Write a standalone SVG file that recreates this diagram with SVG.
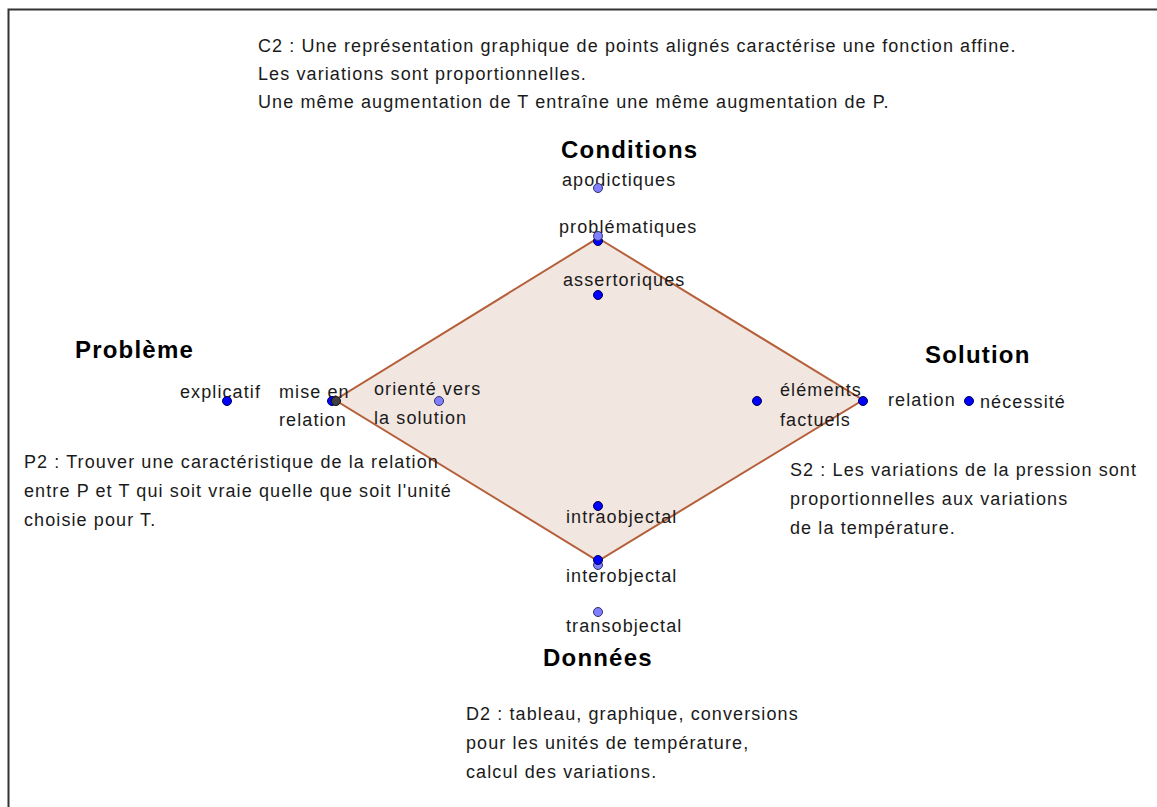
<svg xmlns="http://www.w3.org/2000/svg" width="1157" height="807" viewBox="0 0 1157 807">
<style>
text{font-family:"Liberation Sans",Arial,sans-serif;font-size:18px;letter-spacing:1.1px;fill:#1a1a1a}
.h{font-weight:bold;font-size:24px;letter-spacing:1.2px;fill:#000}
.pd{fill:#0000ff;stroke:#00004d;stroke-width:1}
.pl{fill:#7f7fff;stroke:#333366;stroke-width:1}
.pg{fill:#404040;stroke:#111;stroke-width:1}
</style>
<rect x="0" y="0" width="1157" height="807" fill="#fff"/>
<path d="M8.5 807 V9.5 H1157" fill="none" stroke="#333" stroke-width="2"/>
<g id="connectors">
<polygon points="598,238 863,400 598,561 335,400" fill="#f2e6e1" stroke="#b5603a" stroke-width="2"/>
</g>
<g id="texts-top">
<text x="258" y="52">C2 : Une représentation graphique de points alignés caractérise une fonction affine.</text>
<text x="258" y="80">Les variations sont proportionnelles.</text>
<text x="258" y="108">Une même augmentation de T entraîne une même augmentation de P.</text>
</g>
<g id="conditions">
<text class="h" x="561" y="158">Conditions</text>
<text x="562" y="186">apodictiques</text>
<circle class="pl" cx="598" cy="188" r="4.5"/>
<text x="559" y="233">problématiques</text>
<circle class="pd" cx="598" cy="241" r="4.5"/>
<circle class="pl" cx="598" cy="236" r="4.5"/>
<text x="563" y="286">assertoriques</text>
<circle class="pd" cx="598" cy="295" r="4.5"/>
</g>
<g id="probleme">
<text class="h" x="75" y="358">Problème</text>
<text x="180" y="398">explicatif</text>
<circle class="pd" cx="227" cy="401" r="4.5"/>
<text x="279" y="398">mise en</text>
<text x="279" y="426">relation</text>
<circle class="pd" cx="332" cy="401" r="4.5"/>
<circle class="pg" cx="336" cy="401" r="4.5"/>
<text x="374" y="395">orienté vers</text>
<text x="374" y="424">la solution</text>
<circle class="pl" cx="439" cy="401" r="4.5"/>
<text x="24" y="468">P2 : Trouver une caractéristique de la relation</text>
<text x="24" y="497">entre P et T qui soit vraie quelle que soit l'unité</text>
<text x="24" y="526">choisie pour T.</text>
</g>
<g id="solution">
<text class="h" x="925" y="363">Solution</text>
<text x="780" y="396">éléments</text>
<text x="780" y="426">factuels</text>
<circle class="pd" cx="757" cy="401" r="4.5"/>
<circle class="pd" cx="863" cy="401" r="4.5"/>
<text x="888" y="406">relation</text>
<circle class="pd" cx="969" cy="401" r="4.5"/>
<text x="980" y="408">nécessité</text>
<text x="790" y="476">S2 : Les variations de la pression sont</text>
<text x="790" y="505">proportionnelles aux variations</text>
<text x="790" y="534">de la température.</text>
</g>
<g id="donnees">
<circle class="pd" cx="598" cy="506" r="4.5"/>
<text x="566" y="523">intraobjectal</text>
<circle class="pl" cx="598" cy="565" r="4.5"/>
<circle class="pd" cx="598" cy="560" r="4.5"/>
<text x="566" y="582">interobjectal</text>
<circle class="pl" cx="598" cy="612" r="4.5"/>
<text x="566" y="632">transobjectal</text>
<text class="h" x="543" y="666">Données</text>
<text x="466" y="720">D2 : tableau, graphique, conversions</text>
<text x="466" y="749">pour les unités de température,</text>
<text x="466" y="778">calcul des variations.</text>
</g>
</svg>
